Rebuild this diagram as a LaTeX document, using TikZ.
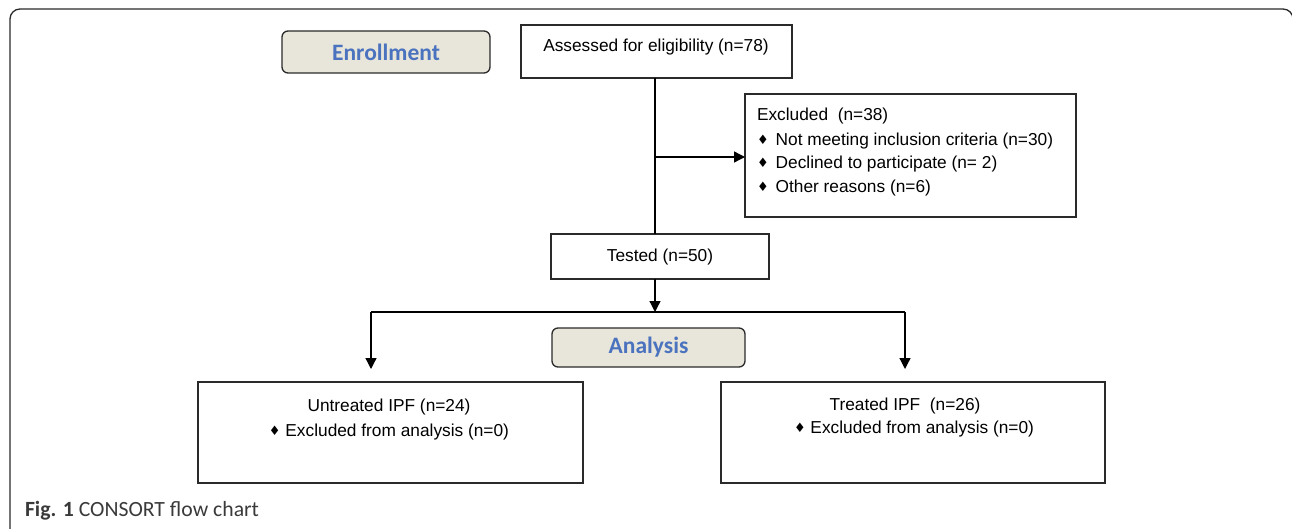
\documentclass[tikz,border=0pt]{standalone}
\usepackage{fontspec}
\setmainfont{Liberation Sans}
\newfontfamily\calib{Carlito}
\newfontfamily\djv{DejaVu Sans}
\usetikzlibrary{arrows.meta}
\definecolor{beige}{HTML}{E8E6DA}
\definecolor{hdblue}{HTML}{4A72BE}
\definecolor{edge}{HTML}{2A2A2A}
\definecolor{captxt}{HTML}{3A3A3A}
\newcommand{\bul}{{\djv\fontsize{13}{14}\selectfont\raisebox{1pt}{♦}}}
\begin{document}
\begin{tikzpicture}[x=1pt,y=-1pt,
  every node/.style={inner sep=0pt, outer sep=0pt},
  box/.style={draw=edge, line width=1.3pt, rectangle},
  head/.style={draw=edge, line width=1.3pt, rectangle, rounded corners=6pt, fill=beige,
    text=hdblue, font=\calib\bfseries\fontsize{23.5}{26}\selectfont},
  txt/.style={font=\fontsize{17.3}{20}\selectfont, text=black},
  conn/.style={draw=black, line width=1.3pt},
  arr/.style={conn, -{Triangle[length=11pt,width=11pt]}}]
\useasboundingbox (0,0) rectangle (1292,529);
\begin{scope}
\clip (0,0) rectangle (1292,529);
% outer frame
\draw[edge, line width=1.3pt, rounded corners=10pt] (10,545) -- (10,9) -- (1293,9) -- (1293,545);
\end{scope}
% boxes
\node[head, minimum width=208pt, minimum height=42pt] (enroll) at (386,52) {Enrollment};
\node[box, minimum width=271pt, minimum height=53pt] (assess) at (656.5,51.5) {};
\node[box, minimum width=331pt, minimum height=123pt] (excl) at (910.5,155.5) {};
\node[box, minimum width=218pt, minimum height=45pt] (tested) at (660,256.5) {};
\node[head, minimum width=193pt, minimum height=39pt] (analysis) at (648.5,347.5) {Analysis};
\node[box, minimum width=385pt, minimum height=101pt] (untr) at (390.5,432.5) {};
\node[box, minimum width=384pt, minimum height=101pt] (treat) at (913,432.5) {};
% texts
\node[txt] (assesst) at (656,47.5) {Assessed for eligibility (n=78)};
\node[txt, anchor=west] (exclt) at (757,116.5) {Excluded\ \ (n=38)};
\node[txt, anchor=west] (excl1) at (757,141.5) {\bul\hspace{7pt}Not meeting inclusion criteria (n=30)};
\node[txt, anchor=west] (excl2) at (757,164.5) {\bul\hspace{7pt}Declined to participate (n= 2)};
\node[txt, anchor=west] (excl3) at (757,188.5) {\bul\hspace{7pt}Other reasons (n=6)};
\node[txt] (testedt) at (660,257.5) {Tested (n=50)};
\node[txt] (untrt) at (389,407.5) {Untreated IPF (n=24)};
\node[txt] (untr1) at (389,432.5) {\bul\ Excluded from analysis (n=0)};
\node[txt] (treatt) at (905,406.5) {Treated IPF\ \ (n=26)};
\node[txt] (treat1) at (914,429.5) {\bul\ Excluded from analysis (n=0)};
\node[anchor=west, text=captxt, font=\calib\fontsize{21.7}{24}\selectfont] (cap) at (25,511) {\textbf{Fig. 1} CONSORT flow chart};
% connectors
\coordinate (top) at (655,78);
\coordinate (branch) at (655,157);
\coordinate (tbot) at (655,279);
\coordinate (split) at (655,312);
\coordinate (lsplit) at (371,312);
\coordinate (rsplit) at (905,312);
\coordinate (lend) at (371,369);
\coordinate (rend) at (905,369);
\draw[conn] (top) -- (branch) -- (branch |- tested.north);
\draw[arr] (branch) -- (branch -| excl.west);
\draw[arr] (tbot) -- (split);
\draw[conn] (lsplit) -- (rsplit);
\draw[arr] (lsplit) -- (lend);
\draw[arr] (rsplit) -- (rend);
\end{tikzpicture}
\end{document}
